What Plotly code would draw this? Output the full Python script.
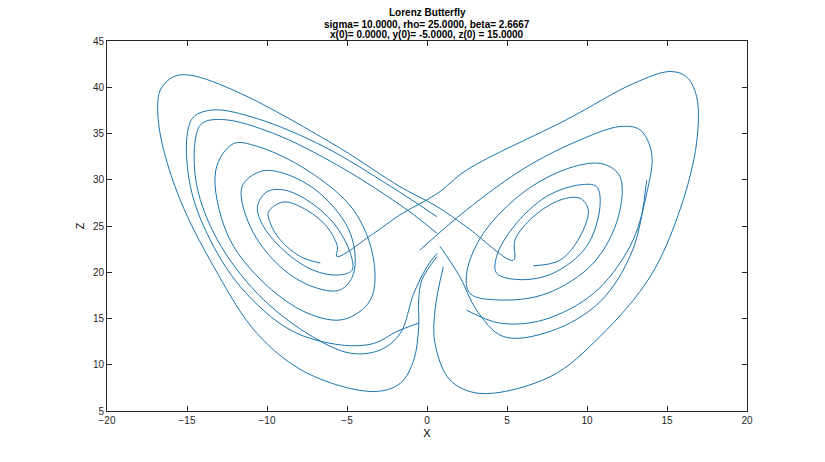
import plotly.graph_objects as go

# hand-traced pieces of the trajectory, (x, z)
inner_left_x = [-6.67, -7.92, -9.17, -9.79, -9.9, -8.96, -7.5, -6.25, -5.6, -5.63,
                -3.33, -1.69, 0.63, 2.48, 8.73, 12.9, 15.19, 16.2, 16.85, 16.85,
                15.81, 13.94, 10.81, 7.69, 3.31, 1.44, 0.5, 0.5, 1.02]
inner_left_z = [21.0, 21.7, 23.5, 25.3, 26.55, 27.6, 26.7, 24.9, 22.8, 21.7,
                24.2, 26.2, 28.5, 31.05, 36.5, 40.4, 41.7, 41.15, 39.0, 34.0,
                26.75, 19.5, 13.05, 8.7, 6.9, 8.35, 12.3, 15.9, 20.6]

outer_left_x = [6.64, 8.31, 9.56, 10.08, 9.56, 8.31, 6.64, 5.5, 5.4, 2.48, 0.63, -1.69,
                -5.42, -11.67, -14.79, -15.83, -16.67, -16.83, -16.56, -15.42, -13.33,
                -10.63, -7.5, -3.33, -1.67, -0.83, -0.52, -0.52, -0.31, 0.63]
outer_left_z = [20.7, 21.3, 23.85, 26.75, 28.0, 27.8, 26.0, 23.5, 21.3, 24.9, 27.1, 29.25,
                33.4, 39.35, 41.3, 41.15, 39.7, 37.55, 33.95, 27.8, 20.6,
                13.4, 9.1, 7.1, 8.0, 10.5, 14.1, 17.0, 19.2, 21.7]

loop2_x = [-10.6, -10.0, -8.96, -7.5, -5.83, -4.79, -4.69, -5.63, -7.08, -8.75, -10.2, -10.6]
loop2_z = [27.1, 28.7, 28.9, 27.8, 25.3, 22.05, 20.2, 19.7, 20.2, 22.05, 24.9, 27.1]

loop3_x = [-11.56, -10.4, -8.96, -6.67, -4.79, -4.58, -5.42, -7.08, -9.17, -11.04, -11.56]
loop3_z = [29.25, 30.9, 30.7, 28.5, 24.2, 19.9, 18.1, 18.4, 20.6, 24.9, 29.25]

loop4_x = [-13.2, -12.1, -10.6, -7.5, -4.58, -3.33, -3.54, -5.21, -7.5, -10.4, -12.5, -13.2]
loop4_z = [31.05, 33.9, 33.6, 31.05, 26.7, 21.3, 17.0, 14.9, 15.6, 19.2, 24.2, 31.05]

loop5a_x = [0.63, -2.29, -6.46, -10.6, -13.33, -14.58, -15.0, -14.79, -13.75, -11.67,
            -8.54, -5.42, -3.33, -1.88, -0.52]
loop5a_z = [26.0, 29.3, 33.6, 36.6, 37.55, 36.8, 34.7, 29.3, 24.2, 18.45,
            13.75, 12.15, 12.3, 13.6, 14.5]

loop5b_x = [0.63, -1.25, -5.42, -9.58, -12.7, -14.06, -14.48, -14.38, -13.1, -10.6,
            -7.5, -4.79, -2.92, -1.67, -0.83, 0.0, 0.63]
loop5b_z = [24.2, 26.75, 31.4, 35.0, 36.5, 36.1, 34.3, 29.3, 23.5, 17.7,
            13.4, 11.25, 11.6, 13.4, 17.7, 20.6, 22.05]

right2_x = [4.35, 5.81, 7.89, 9.98, 10.81, 10.6, 9.56, 7.48, 5.4, 4.35, 4.35]
right2_z = [19.9, 19.2, 19.9, 22.8, 27.1, 29.25, 29.45, 28.2, 24.9, 21.7, 19.9]

right3_x = [2.69, 4.56, 7.48, 10.4, 11.96, 12.06, 11.02, 9.14, 6.23, 3.52, 2.48, 2.69]
right3_z = [17.7, 17.0, 17.7, 21.0, 26.0, 30.35, 31.7, 31.4, 28.9, 24.2, 19.9, 17.7]

right4_x = [2.48, 4.56, 7.27, 10.4, 12.69, 13.73, 14.04, 13.31, 12.06, 9.56, 6.23, 2.48, -0.44]
right4_z = [15.9, 14.5, 14.85, 17.7, 22.8, 28.5, 32.85, 35.4, 35.75, 34.3, 31.4, 26.75, 22.4]

right5_x = [0.81, 2.06, 3.1, 4.77, 7.69, 10.81, 12.9, 13.73]
right5_z = [22.8, 19.5, 15.9, 13.05, 13.6, 16.8, 22.6, 29.95]

title_lines = ['Lorenz Butterfly',
               'sigma= 10.0000, rho= 25.0000, beta= 2.6667',
               'x(0)= 0.0000, y(0)= -5.0000, z(0) = 15.0000']

pieces = [(inner_left_x, inner_left_z), (outer_left_x, outer_left_z),
          (loop2_x, loop2_z), (loop3_x, loop3_z), (loop4_x, loop4_z),
          (loop5a_x, loop5a_z), (loop5b_x, loop5b_z),
          (right2_x, right2_z), (right3_x, right3_z), (right4_x, right4_z),
          (right5_x, right5_z)]

fig = go.Figure()
for px, pz in pieces:
    fig.add_trace(go.Scatter(x=px, y=pz, mode='lines', line_shape='spline',
                             line=dict(color='#1A74B0', width=1), showlegend=False,
                             hoverinfo='skip'))

# three-line bold title, one annotation per line
for i, t in enumerate(title_lines):
    fig.add_annotation(text='<b>' + t + '</b>', xref='paper', yref='paper',
                       x=0.5, y=1 + (28 - 11 * i) / 370, xanchor='center', yanchor='middle',
                       showarrow=False, font=dict(size=10, color='#000000'))

axis_style = dict(showgrid=False, zeroline=False, showline=True, linecolor='#262626',
                  linewidth=1, mirror='ticks', ticks='inside', ticklen=5, automargin=False,
                  tickcolor='#262626', tickfont=dict(size=10, color='#262626'))

# page body has an 8px margin, so the plot box is shifted by that much
fig.update_layout(
    width=825, height=462,
    margin=dict(l=99, r=86, t=33, b=59, autoexpand=False),
    paper_bgcolor='white', plot_bgcolor='white',
    font=dict(family='Liberation Sans, Arial, sans-serif', color='#000000'),
    xaxis=dict(range=[-20, 20], dtick=5, title=dict(text='X', font=dict(size=11), standoff=4),
               **axis_style),
    yaxis=dict(range=[5, 45], dtick=5, title=dict(text='Z', font=dict(size=11), standoff=6),
               **axis_style),
)

fig.write_html("out.html")
